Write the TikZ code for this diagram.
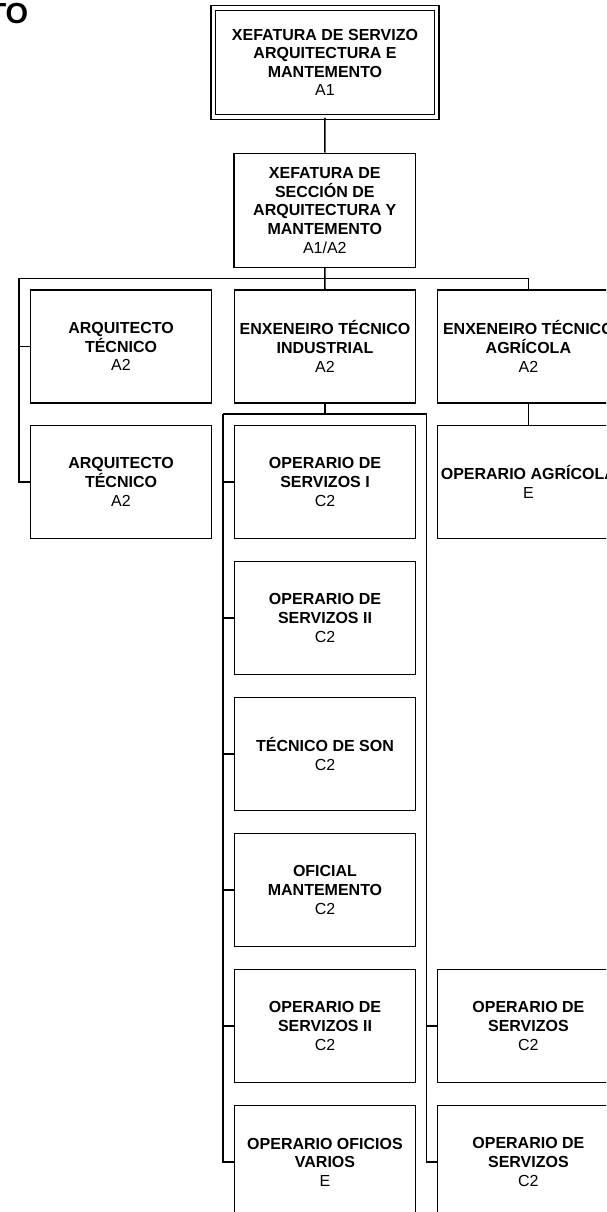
\documentclass[tikz,border=0pt]{standalone}
\usepackage{fontspec}
\setmainfont{Liberation Sans}
\begin{document}
\begin{tikzpicture}[x=1pt,y=-1pt,
  box/.style={draw, line width=1.5pt, fill=white, minimum width=181.4pt, minimum height=113pt,
    align=center, inner sep=0pt, font=\fontsize{16}{18.6}\selectfont\bfseries},
  conn/.style={line width=1.5pt},
  thickconn/.style={line width=2.2pt}]
\useasboundingbox (0,0) rectangle (606,1212);
\fill[white] (0,0) rectangle (606,1212);
\clip (0,0) rectangle (606,1212);

\node[anchor=base east, inner sep=0pt, font=\fontsize{29}{32}\selectfont\bfseries] (title) at (28.5,24) {TO};

% top box
\node[box, minimum width=223.3pt, minimum height=109pt, double, double distance=3.1pt] (top) at (325,62.5)
  {XEFATURA DE SERVIZO\\ARQUITECTURA E\\MANTEMENTO\\{\mdseries A1}};
\node[box, minimum height=114pt] (sec) at (324.8,210.4)
  {XEFATURA DE\\SECCIÓN DE\\ARQUITECTURA Y\\MANTEMENTO\\{\mdseries A1/A2}};

% row 1
\node[box] (arq1) at (121,346.5) {ARQUITECTO\\TÉCNICO\\{\mdseries A2}};
\node[box] (ind) at (325,346.5) {ENXENEIRO TÉCNICO\\INDUSTRIAL\\{\mdseries A2}};
\node[box] (agr) at (528.4,346.5) {ENXENEIRO TÉCNICO\\AGRÍCOLA\\{\mdseries A2}};

% row 2
\node[box] (arq2) at (121,482) {ARQUITECTO\\TÉCNICO\\{\mdseries A2}};
\node[box] (op1) at (325,482) {OPERARIO DE\\SERVIZOS I\\{\mdseries C2}};
\node[box] (agr2) at (528.4,482) {OPERARIO AGRÍCOLA\\{\mdseries E}};

% middle column
\node[box] (op2) at (325,618) {OPERARIO DE\\SERVIZOS II\\{\mdseries C2}};
\node[box] (son) at (325,754) {TÉCNICO DE SON\\{\mdseries C2}};
\node[box] (ofi) at (325,890) {OFICIAL\\MANTEMENTO\\{\mdseries C2}};
\node[box] (op3) at (325,1026) {OPERARIO DE\\SERVIZOS II\\{\mdseries C2}};
\node[box] (ofv) at (325,1162) {OPERARIO OFICIOS\\VARIOS\\{\mdseries E}};

% right column
\node[box] (sv1) at (528.4,1026) {OPERARIO DE\\SERVIZOS\\{\mdseries C2}};
\node[box] (sv2) at (528.4,1162) {OPERARIO DE\\SERVIZOS\\{\mdseries C2}};

% coordinates
\coordinate (busL) at (19,278.3);
\coordinate (hL) at (222.7,413.7);
\coordinate (hM) at (325,413.7);
\coordinate (hR) at (426.7,413.7);

% connectors
\draw[conn] (top.south) -- (sec.north);
\draw[conn] (sec.south) -- (ind.north);
\draw[conn] (arq2.west) -| (busL) -| (agr.north);
\draw[conn] (arq1.west) -- (arq1.west -| busL);
\draw[conn] (agr.south) -- (agr2.north);
\draw[conn] (ind.south) -- (hM);
\draw[thickconn] (hL) -- (hR);
\draw[thickconn] (hL) |- (ofv.west);
\foreach \n in {op1,op2,son,ofi,op3} \draw[conn] (\n.west) -- (\n.west -| hL);
\draw[conn] (hR) |- (sv2.west);
\draw[conn] (sv1.west) -- (sv1.west -| hR);
\end{tikzpicture}
\end{document}
